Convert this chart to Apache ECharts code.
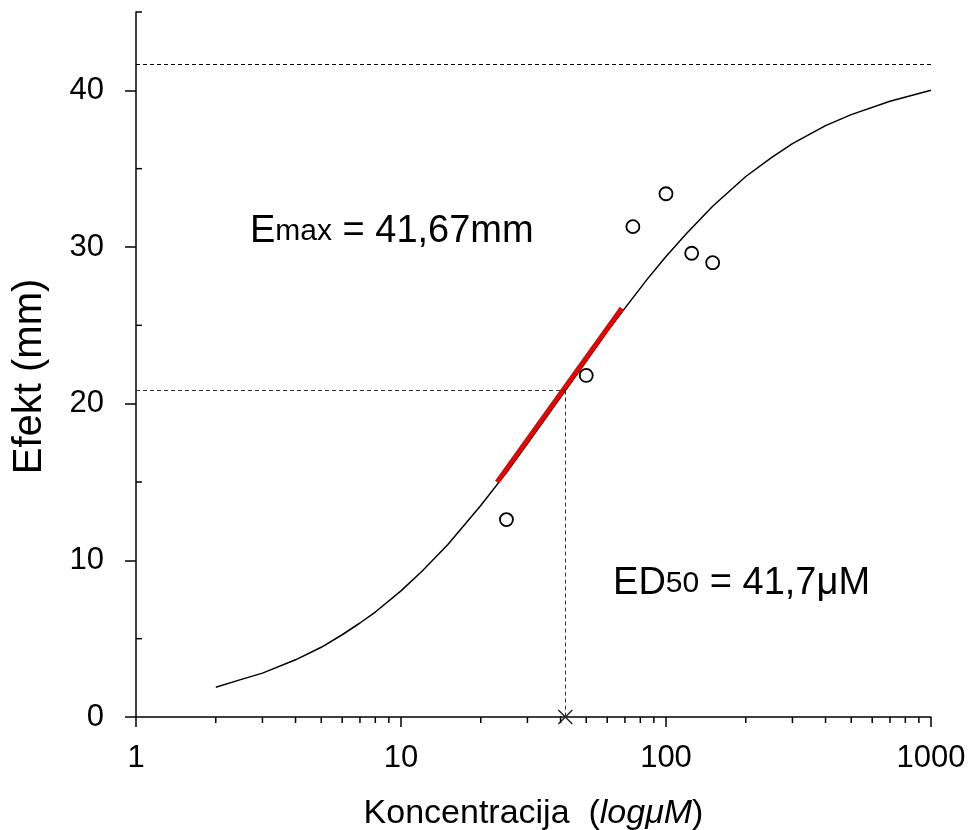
<!DOCTYPE html>
<html>
<head>
<meta charset="utf-8">
<script src="https://cdn.jsdelivr.net/npm/echarts@6/dist/echarts.min.js"></script>
<style>
  html, body { margin: 0; padding: 0; background: #fff; }
  #chart { width: 973px; height: 830px; }
</style>
</head>
<body>
<div id="chart"></div>
<script>
// fitted curve
const concX = [2, 2.5, 3, 4, 5, 6, 7, 8, 10, 12, 15, 20, 25, 30, 40, 50, 60, 70, 85, 100, 120, 150, 200, 250, 300, 400, 500, 700, 1000];
const effect = [1.9, 2.4, 2.8, 3.65, 4.45, 5.25, 6.0, 6.7, 8.05, 9.3, 11.0, 13.5, 15.6, 17.45, 20.4, 22.7, 24.6, 26.1, 27.95, 29.4, 30.9, 32.6, 34.5, 35.7, 36.6, 37.75, 38.45, 39.3, 40.0];

// measured points
const measX = [25, 50, 75, 100, 125, 150];
const measY = [12.6, 21.8, 31.3, 33.4, 29.6, 29.0];

// tangent at ED50 (red)
const tangentX = [23, 68];
const tangentY = [15.0, 26.1];

const EMAX = 41.67;
const ED50 = 41.7;

const yTicks = [0, 10, 20, 30, 40];
const yMinorTicks = [5, 15, 25, 35, 45];
const xMinorTicks = [2, 3, 4, 5, 6, 7, 8, 9, 20, 30, 40, 50, 60, 70, 80, 90, 200, 300, 400, 500, 600, 700, 800, 900];

const FONT = 'Liberation Sans, Arial, sans-serif';

const chart = echarts.init(document.getElementById('chart'));

const zip = (xs, ys) => xs.map((x, i) => [x, ys[i]]);

const option = {
  animation: false,
  textStyle: { fontFamily: FONT, color: '#000' },
  grid: { left: 136, right: 42, top: 12, bottom: 113, outerBoundsMode: 'none', containLabel: false },
  xAxis: {
    type: 'log',
    logBase: 10,
    min: 1,
    max: 1000,
    name: 'Koncentracija  ({i|logμM})',
    nameLocation: 'middle',
    nameGap: 80,
    nameTextStyle: {
      fontSize: 34, color: '#000', fontFamily: FONT,
      rich: { i: { fontSize: 34, fontStyle: 'italic', color: '#000', fontFamily: FONT } },
    },
    axisLine: { lineStyle: { color: '#000', width: 1.5 } },
    axisTick: { length: 10, lineStyle: { color: '#000', width: 1.5 } },
    axisLabel: { fontSize: 31, color: '#000', margin: 26, formatter: v => String(v) },
    splitLine: { show: false },
    minorTick: { show: false },
  },
  yAxis: {
    type: 'value',
    min: 0,
    max: 45,
    name: 'Efekt (mm)',
    nameLocation: 'middle',
    nameGap: 86,
    nameTextStyle: { fontSize: 40, color: '#000', fontFamily: FONT, padding: [0, 24, 0, 0] },
    axisLine: { show: true, lineStyle: { color: '#000', width: 1.5 } },
    axisTick: { show: true, length: 11, customValues: yTicks, lineStyle: { color: '#000', width: 1.5 } },
    axisLabel: { fontSize: 31, color: '#000', margin: 32, customValues: yTicks },
    splitLine: { show: false },
  },
  series: [
    {
      // fitted curve + guide lines
      type: 'line',
      data: zip(concX, effect),
      symbol: 'none',
      smooth: false,
      lineStyle: { color: '#000', width: 1.5 },
      z: 3,
      markLine: {
        silent: true,
        symbol: ['none', 'none'],
        label: { show: false },
        lineStyle: { color: '#333', width: 1, type: [4, 3] },
        data: [
          [{ coord: [1, EMAX], lineStyle: { color: '#000' } }, { coord: [1000, EMAX] }],
          [{ coord: [1, EMAX / 2] }, { coord: [ED50, EMAX / 2] }],
          [{ coord: [ED50, EMAX / 2] }, { coord: [ED50, 0] }],
        ],
      },
    },
    {
      // tangent
      type: 'line',
      data: zip(tangentX, tangentY),
      symbol: 'none',
      lineStyle: { color: '#ee0000', width: 4.5 },
      z: 4,
    },
    {
      type: 'scatter',
      data: zip(measX, measY),
      symbol: 'circle',
      symbolSize: 13,
      itemStyle: { color: '#fff', borderColor: '#000', borderWidth: 1.8, opacity: 1 },
      z: 5,
    },
    {
      // ED50 cross on the x axis
      type: 'scatter',
      data: [[ED50, 0]],
      symbol: 'path://M0,0L10,10M10,0L0,10',
      symbolSize: 14,
      clip: false,
      itemStyle: { color: 'none', borderColor: '#222', borderWidth: 1.4, opacity: 1 },
      z: 6,
    },
    {
      // x minor ticks
      type: 'scatter',
      data: xMinorTicks.map(v => [v, 0]),
      symbol: 'rect',
      symbolSize: [1.5, 6],
      symbolOffset: [0, 3],
      clip: false,
      silent: true,
      itemStyle: { color: '#000', opacity: 1 },
      z: 2,
    },
    {
      // y minor ticks (inside)
      type: 'scatter',
      data: yMinorTicks.map(v => [1, v]),
      symbol: 'rect',
      symbolSize: [6, 1.5],
      symbolOffset: [3, 0],
      clip: false,
      silent: true,
      itemStyle: { color: '#000', opacity: 1 },
      z: 2,
    },
    {
      // annotations
      type: 'scatter',
      symbolSize: 0.1,
      itemStyle: { color: '#fff', opacity: 1 },
      silent: true,
      data: [
        { value: [2.69, 31.0], label: { formatter: '{b|E}{s|max}{b| = 41,67mm}' } },
        { value: [63.1, 8.5], label: { formatter: '{b|ED}{s|50}{b| = 41,7μM}' } },
      ],
      label: {
        show: true,
        position: 'right',
        distance: 0,
        color: '#000',
        opacity: 1,
        rich: {
          b: { fontSize: 38, lineHeight: 40, fontFamily: FONT, color: '#000' },
          s: { fontSize: 30, lineHeight: 32, fontFamily: FONT, color: '#000' },
        },
      },
      z: 7,
    },
  ],
};

chart.setOption(option);
</script>
</body>
</html>
